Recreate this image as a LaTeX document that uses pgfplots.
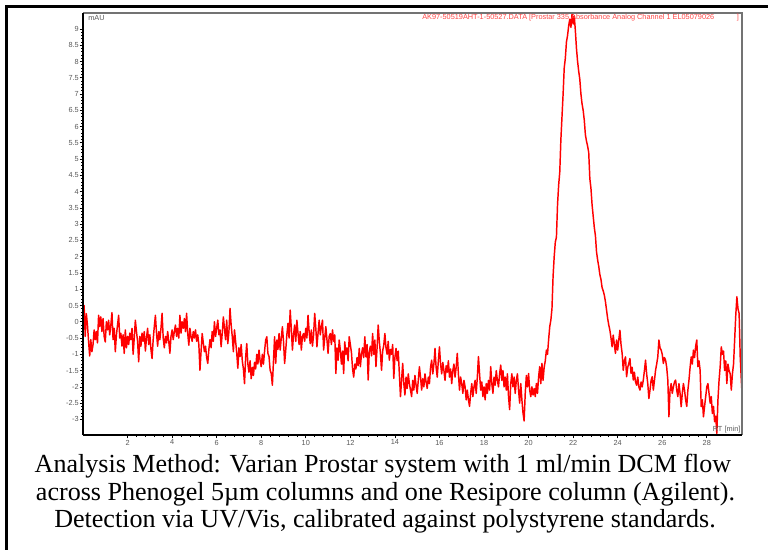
\documentclass[border=0pt]{standalone}
\usepackage{pgfplots}
\pgfplotsset{compat=1.18}
\usepackage{fontspec}
\setmainfont{Liberation Serif}
\newfontfamily\arial{Liberation Sans}
\definecolor{trace}{RGB}{255,0,0}
\definecolor{ttl}{RGB}{255,70,70}
\definecolor{tickgray}{RGB}{90,90,90}
\begin{document}
\begin{tikzpicture}[x=0.75pt,y=-0.75pt]
\useasboundingbox (0,0) rectangle (768,550);
\fill[white] (0,0) rectangle (768,550);
\draw[line width=2.25pt] (6.5,552) -- (6.5,6.5) -- (770,6.5);
\begin{axis}[at={(62.25pt,-326.25pt)}, anchor=south west, scale only axis,
 width=494.25pt, height=316.5pt,
 xmin=0, xmax=29.58, ymin=-3.48, ymax=9.49,
 axis line style={draw=none},
 xtick={2,4,...,28}, ytick={-3,-2.5,...,9},
 minor x tick num=4, minor y tick num=4,
 xtick pos=left, ytick pos=left, tick align=outside,
 major tick length=2.5pt, minor tick length=1.5pt,
 tick style={black, line width=0.5pt},
 ticklabel style={font=\arial\fontsize{5.5}{6}\selectfont, text=tickgray},
 /pgf/number format/assume math mode=true,
 yticklabel style={/pgf/number format/fixed, inner sep=0.5pt},
 xticklabel style={inner sep=1pt},
 clip mode=individual]
\addplot[trace, line width=1.1pt, line join=round] table {
x y
0.00 0.30
0.05 0.50
0.10 -0.45
0.15 0.25
0.20 -0.10
0.25 -0.60
0.30 -1.05
0.35 -0.55
0.40 -0.92
0.45 -0.70
0.50 -0.25
0.55 -0.55
0.60 -0.30
0.65 -0.65
0.70 0.20
0.75 -0.15
0.80 0.15
0.85 -0.30
0.90 0.10
0.95 -0.45
1.00 -0.62
1.05 0.00
1.10 -0.25
1.15 0.05
1.20 -0.40
1.25 -0.10
1.30 0.28
1.35 -0.55
1.40 -0.20
1.45 -0.92
1.50 -0.40
1.55 -0.10
1.60 0.20
1.65 -0.50
1.70 -0.35
1.75 -0.75
1.80 -0.40
1.85 -0.97
1.90 -0.25
1.95 -0.80
2.00 -0.45
2.05 -0.70
2.10 -0.35
2.15 -0.55
2.20 -0.20
2.25 -1.00
2.30 -0.50
2.35 0.05
2.40 -0.30
2.45 -0.60
2.50 -1.23
2.55 -0.45
2.60 -0.75
2.65 -0.35
2.70 -0.60
2.75 -0.30
2.80 -0.90
2.85 -0.50
2.90 -0.20
2.95 -0.70
3.00 -0.40
3.05 -0.85
3.10 -1.13
3.15 -0.55
3.20 -0.15
3.25 0.20
3.30 -0.35
3.35 -0.75
3.40 -0.30
3.45 -0.55
3.50 -0.20
3.55 0.26
3.60 -0.50
3.65 -0.80
3.70 -0.45
3.75 -0.65
3.80 -0.30
3.85 -0.60
3.90 -0.97
3.95 -0.45
4.00 -0.25
4.05 -0.55
4.10 -0.30
4.15 -0.10
4.20 -0.45
4.25 -0.20
4.30 -0.50
4.35 0.20
4.40 -0.35
4.45 0.00
4.50 -0.20
4.55 0.10
4.60 -0.30
4.65 0.26
4.70 -0.35
4.75 -0.72
4.80 -0.20
4.85 -0.45
4.90 -0.60
4.95 -0.30
5.00 -0.50
5.05 -0.25
5.10 -0.60
5.15 -0.40
5.20 -0.70
5.25 -1.49
5.30 -0.90
5.35 -0.36
5.40 -0.65
5.45 -0.92
5.50 -0.75
5.55 -1.10
5.60 -1.28
5.65 -0.85
5.70 -0.55
5.75 -0.80
5.80 -0.30
5.85 -0.60
5.90 0.00
5.95 -0.45
6.00 -0.20
6.05 0.05
6.10 -0.40
6.15 -0.25
6.20 -0.77
6.25 -0.35
6.30 0.15
6.35 -0.20
6.40 -0.55
6.45 0.05
6.50 -0.67
6.55 -0.30
6.60 0.41
6.65 -0.10
6.70 -0.45
6.75 -0.92
6.80 -0.25
6.85 -0.60
6.90 -0.95
6.95 -1.43
7.00 -0.80
7.05 -1.07
7.10 -0.70
7.15 -1.20
7.20 -1.45
7.25 -1.90
7.30 -1.10
7.35 -0.67
7.40 -1.30
7.45 -1.55
7.50 -1.20
7.55 -1.75
7.60 -1.40
7.65 -1.65
7.70 -1.25
7.75 -1.45
7.80 -1.00
7.85 -1.30
7.90 -0.87
7.95 -1.20
8.00 -1.38
8.05 -1.00
8.10 -1.30
8.15 -0.90
8.20 -0.56
8.25 -0.46
8.30 -0.97
8.35 -1.07
8.40 -1.49
8.45 -1.59
8.50 -1.95
8.55 -1.20
8.60 -0.46
8.65 -1.28
8.70 -0.56
8.75 -0.85
8.80 -0.36
8.85 -0.87
8.90 -0.50
8.95 -0.15
9.00 -0.60
9.05 -1.28
9.10 -0.87
9.15 -0.40
9.20 -0.05
9.25 -0.50
9.30 0.36
9.35 -0.20
9.40 -0.87
9.45 -0.40
9.50 -0.10
9.55 -0.60
9.60 0.05
9.65 -0.35
9.70 -0.70
9.75 -0.30
9.80 -0.87
9.85 -0.45
9.90 -0.36
9.95 -0.60
10.00 -0.20
10.05 -0.50
10.10 0.20
10.15 -0.30
10.20 -0.67
10.25 -0.25
10.30 -0.75
10.35 -0.40
10.40 0.26
10.45 -0.20
10.50 -0.77
10.55 -0.35
10.60 0.05
10.65 -0.40
10.70 -0.15
10.75 0.05
10.80 -0.87
10.85 -0.50
10.90 -0.15
10.95 -0.55
11.00 -0.97
11.05 -0.45
11.10 -0.36
11.15 -0.70
11.20 -0.25
11.25 -0.60
11.30 -0.40
11.35 -1.59
11.40 -0.80
11.45 -1.18
11.50 -0.56
11.55 -0.87
11.60 -1.30
11.65 -0.90
11.70 -1.59
11.75 -0.62
11.80 -1.00
11.85 -0.80
11.90 -1.20
11.95 -0.46
12.00 -0.70
12.05 -0.95
12.10 -1.45
12.15 -1.70
12.20 -1.30
12.25 -1.45
12.30 -1.10
12.35 -1.35
12.40 -0.82
12.45 -1.38
12.50 -1.00
12.55 -0.80
12.60 -1.10
12.65 -0.46
12.70 -1.08
12.75 -0.70
12.80 -1.79
12.85 -0.90
12.90 -0.75
12.95 -1.05
13.00 -0.36
13.05 -1.00
13.10 -0.56
13.15 -1.38
13.20 -0.80
13.25 -0.10
13.30 -0.60
13.35 -0.97
13.40 -1.49
13.45 -0.90
13.50 -0.72
13.55 -0.36
13.60 -0.80
13.65 -1.00
13.70 -0.60
13.75 -1.18
13.80 -0.85
13.85 -1.00
13.90 -0.70
13.95 -1.74
14.00 -1.10
14.05 -0.82
14.10 -1.20
14.15 -0.90
14.20 -1.60
14.25 -2.30
14.30 -1.79
14.35 -1.28
14.40 -1.90
14.45 -2.25
14.50 -1.70
14.55 -2.05
14.60 -1.60
14.65 -1.90
14.70 -2.10
14.75 -2.30
14.80 -1.80
14.85 -2.10
14.90 -1.65
14.95 -1.95
15.00 -2.20
15.05 -1.80
15.10 -1.38
15.15 -1.70
15.20 -2.10
15.25 -1.75
15.30 -2.00
15.35 -1.60
15.40 -1.85
15.45 -2.05
15.50 -1.70
15.55 -1.90
15.60 -1.40
15.65 -1.18
15.70 -1.60
15.75 -1.30
15.80 -0.82
15.85 -1.40
15.90 -1.70
15.95 -1.20
16.00 -0.77
16.05 -1.30
16.10 -1.60
16.15 -1.25
16.20 -1.50
16.25 -1.80
16.30 -1.35
16.35 -1.55
16.40 -1.20
16.45 -1.70
16.50 -1.45
16.55 -1.90
16.60 -1.50
16.65 -1.30
16.70 -1.70
16.75 -1.40
16.80 -0.97
16.85 -1.60
16.90 -2.10
16.95 -1.70
17.00 -1.90
17.05 -2.20
17.10 -1.80
17.15 -2.00
17.20 -2.40
17.25 -2.10
17.30 -2.40
17.35 -2.60
17.40 -2.20
17.45 -1.90
17.50 -2.30
17.55 -2.00
17.60 -1.80
17.65 -2.20
17.70 -1.70
17.75 -1.07
17.80 -1.60
17.85 -2.10
17.90 -1.85
17.95 -2.30
18.00 -2.00
18.05 -2.40
18.10 -1.90
18.15 -2.20
18.20 -1.80
18.25 -2.10
18.30 -1.38
18.35 -1.90
18.40 -2.20
18.45 -1.70
18.50 -1.95
18.55 -1.50
18.60 -1.80
18.65 -2.00
18.70 -1.60
18.75 -1.33
18.80 -1.80
18.85 -1.50
18.90 -2.00
18.95 -1.70
19.00 -2.10
19.05 -1.60
19.10 -2.30
19.15 -2.70
19.20 -1.90
19.25 -1.60
19.30 -2.00
19.35 -1.70
19.40 -2.20
19.45 -1.80
19.50 -1.60
19.55 -2.10
19.60 -2.50
19.65 -1.90
19.70 -2.40
19.75 -2.80
19.80 -3.05
19.85 -2.20
19.90 -1.65
19.95 -2.00
20.00 -1.59
20.05 -2.10
20.10 -2.30
20.15 -2.00
20.20 -2.25
20.25 -2.05
20.30 -2.30
20.35 -1.90
20.40 -2.20
20.45 -1.70
20.50 -1.38
20.55 -1.90
20.60 -1.28
20.65 -1.80
20.70 -1.40
20.75 -1.20
20.80 -0.87
20.85 -1.00
20.90 -0.55
20.95 -0.15
21.00 0.05
21.05 0.40
21.10 1.40
21.15 2.00
21.20 2.45
21.25 2.60
21.30 3.60
21.35 4.20
21.40 4.60
21.45 5.60
21.50 6.30
21.55 7.00
21.60 7.80
21.65 8.10
21.70 8.60
21.75 8.80
21.80 9.10
21.85 9.30
21.90 9.05
21.95 9.45
22.00 9.15
22.05 9.40
22.10 8.95
22.15 8.40
22.20 8.00
22.25 7.70
22.30 7.45
22.35 7.00
22.40 6.70
22.45 6.50
22.50 6.20
22.55 5.75
22.60 5.55
22.65 5.40
22.70 5.20
22.75 4.40
22.80 4.10
22.85 3.60
22.90 3.25
22.95 2.90
23.00 2.65
23.05 2.15
23.10 1.90
23.15 1.70
23.20 1.45
23.25 1.30
23.30 1.05
23.35 0.95
23.40 0.82
23.45 0.62
23.50 0.36
23.55 0.10
23.60 -0.10
23.65 -0.26
23.70 -0.50
23.75 -0.77
23.80 -0.41
23.85 -0.70
23.90 -0.97
23.95 -0.56
24.00 -0.87
24.05 -0.55
24.10 -0.26
24.15 -0.70
24.20 -0.97
24.25 -1.49
24.30 -1.20
24.35 -1.08
24.40 -1.69
24.45 -1.40
24.50 -1.28
24.55 -1.13
24.60 -1.59
24.65 -1.40
24.70 -1.79
24.75 -1.55
24.80 -1.85
24.85 -1.95
24.90 -1.70
24.95 -2.00
25.00 -2.10
25.05 -1.85
25.10 -2.00
25.15 -1.79
25.20 -1.50
25.25 -1.18
25.30 -1.60
25.35 -1.90
25.40 -2.36
25.45 -2.10
25.50 -1.80
25.55 -1.69
25.60 -2.10
25.65 -1.80
25.70 -1.49
25.75 -1.30
25.80 -1.08
25.85 -0.56
25.90 -0.80
25.95 -0.87
26.00 -1.00
26.05 -1.28
26.10 -1.10
26.15 -1.18
26.20 -1.40
26.25 -1.79
26.30 -2.92
26.35 -2.10
26.40 -1.90
26.45 -2.20
26.50 -2.00
26.55 -1.85
26.60 -1.79
26.65 -2.10
26.70 -2.30
26.75 -1.90
26.80 -2.20
26.85 -2.61
26.90 -2.20
26.95 -1.90
27.00 -2.10
27.05 -2.40
27.10 -2.60
27.15 -2.10
27.20 -1.79
27.25 -1.40
27.30 -1.08
27.35 -1.30
27.40 -0.87
27.45 -1.10
27.50 -0.75
27.55 -0.56
27.60 -1.38
27.65 -1.20
27.70 -1.49
27.75 -2.61
27.80 -2.40
27.85 -2.92
27.90 -2.60
27.95 -2.30
28.00 -2.00
28.05 -1.90
28.10 -2.20
28.15 -2.50
28.20 -2.30
28.25 -2.82
28.30 -2.60
28.35 -3.07
28.40 -2.90
28.45 -3.43
28.50 -2.40
28.55 -1.80
28.60 -1.38
28.65 -0.77
28.70 -1.00
28.75 -0.90
28.80 -1.50
28.85 -1.20
28.90 -1.90
28.95 -1.30
29.00 -1.50
29.05 -1.60
29.10 -2.10
29.15 -1.60
29.20 -1.30
29.25 -0.56
29.30 0.20
29.35 0.77
29.40 0.40
29.45 0.26
29.50 -1.08
29.55 -1.80
29.58 -2.20
};
\draw[black!55, line width=0.9pt] (rel axis cs:0,1) -- (rel axis cs:1,1) -- (rel axis cs:1,0);
\draw[black, line width=1.2pt] (rel axis cs:0,0) -- (rel axis cs:1,0);
\draw[black, line width=1.5pt] (rel axis cs:0,0) -- (rel axis cs:0,1);
\node[anchor=north west, inner sep=0, text=tickgray, font=\arial\fontsize{5.5}{6}\selectfont] at ([xshift=3.8pt,yshift=-1.6pt]rel axis cs:0,1) {mAU};
\node[anchor=south east, inner sep=0, text=tickgray, font=\arial\fontsize{5.5}{6}\selectfont] at ([xshift=-1pt,yshift=1.2pt]rel axis cs:1,0) {RT [min]};
\end{axis}
\node[anchor=west, inner sep=0, text=ttl, font=\arial\fontsize{5.5}{6}\selectfont] at (422,17.5) {AK97-50519AHT-1-50527.DATA [Prostar 335 Absorbance Analog Channel 1 EL05079026};
\node[anchor=center, inner sep=0, text=ttl, font=\arial\fontsize{5.5}{6}\selectfont] at (738,17.5) {]};
\node[anchor=base, inner sep=0, font=\fontsize{19.55}{21}\selectfont] at (383,472.5) {Analysis Method: Varian Prostar system with 1 ml/min DCM flow};
\node[anchor=base, inner sep=0, font=\fontsize{19.55}{21}\selectfont] at (385.5,500) {across Phenogel 5µm columns and one Resipore column (Agilent).};
\node[anchor=base, inner sep=0, font=\fontsize{19.55}{21}\selectfont] at (385,527.5) {Detection via UV/Vis, calibrated against polystyrene standards.};
\end{tikzpicture}
\end{document}
